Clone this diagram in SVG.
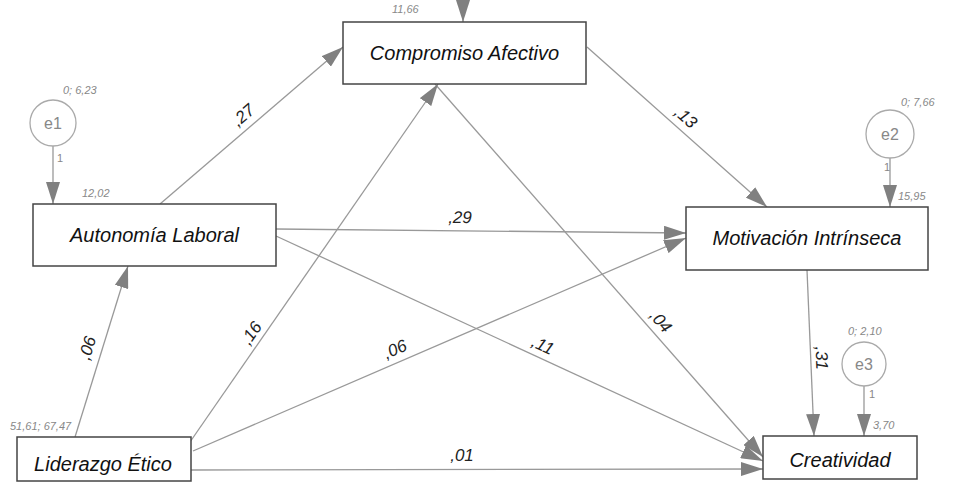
<svg xmlns="http://www.w3.org/2000/svg" width="954" height="485" viewBox="0 0 954 485">
<defs>
<marker id="ah" markerUnits="userSpaceOnUse" markerWidth="22" markerHeight="14" refX="22" refY="7" orient="auto"><path d="M0,0 L22,7 L0,14 z" fill="#808080"/></marker>
<style>
.box{fill:#fff;stroke:#444;stroke-width:1.5}
.circ{fill:#fff;stroke:#aaa;stroke-width:1.3}
.edge{stroke:#999;stroke-width:1.3;fill:none;marker-end:url(#ah)}
.name{font-family:"Liberation Sans",Arial,sans-serif;font-style:italic;font-size:20px;fill:#111;text-anchor:middle}
.ename{font-family:"Liberation Sans",Arial,sans-serif;font-size:16px;fill:#888;text-anchor:middle}
.small{font-family:"Liberation Sans",Arial,sans-serif;font-style:italic;font-size:11px;fill:#888}
.one{font-family:"Liberation Sans",Arial,sans-serif;font-size:11px;fill:#888}
.coef{font-family:"Liberation Sans",Arial,sans-serif;font-style:italic;font-size:17px;fill:#222;text-anchor:middle}
</style>
</defs>
<rect width="954" height="485" fill="#fff"/>
<g id="connectors">
<line class="edge" x1="463" y1="-5" x2="463" y2="22"/>
<line class="edge" x1="160" y1="204" x2="343" y2="47"/>
<line class="edge" x1="587" y1="47" x2="767" y2="207"/>
<line class="edge" x1="276" y1="229" x2="686" y2="233"/>
<line class="edge" x1="276" y1="236" x2="763" y2="461"/>
<line class="edge" x1="435" y1="84" x2="763" y2="457"/>
<line class="edge" x1="75" y1="437" x2="128" y2="266"/>
<line class="edge" x1="190" y1="442" x2="438" y2="84"/>
<line class="edge" x1="193" y1="451" x2="686" y2="238"/>
<line class="edge" x1="191" y1="470" x2="763" y2="469"/>
<line class="edge" x1="807" y1="270" x2="814" y2="436"/>
<line class="edge" x1="53" y1="146" x2="53" y2="204"/>
<line class="edge" x1="890" y1="158" x2="890" y2="207"/>
<line class="edge" x1="864" y1="386" x2="864" y2="436"/>
<text class="coef" transform="translate(243,115) rotate(-41)" y="6">,27</text>
<text class="coef" transform="translate(460,217) rotate(0.5)" y="6">,29</text>
<text class="coef" transform="translate(686,117) rotate(41.6)" y="6">,13</text>
<text class="coef" transform="translate(251,333) rotate(-55)" y="6">,16</text>
<text class="coef" transform="translate(87,348) rotate(-72.8)" y="6">,06</text>
<text class="coef" transform="translate(395,349) rotate(-23.3)" y="6">,06</text>
<text class="coef" transform="translate(543,345) rotate(24.8)" y="6">,11</text>
<text class="coef" transform="translate(661,321) rotate(48.7)" y="6">,04</text>
<text class="coef" transform="translate(822,358) rotate(87.6)" y="6">,31</text>
<text class="coef" transform="translate(462,455)" y="6">,01</text>
<text class="one" x="57" y="162">1</text>
<text class="one" x="884" y="171">1</text>
<text class="one" x="869" y="398">1</text>
</g>
<g id="compromiso">
<rect class="box" x="343" y="22" width="243" height="62"/>
<text class="name" x="464.5" y="60">Compromiso Afectivo</text>
<text class="small" x="392" y="13">11,66</text>
</g>
<g id="autonomia">
<rect class="box" x="33" y="204" width="243" height="62"/>
<text class="name" x="154.5" y="242">Autonomía Laboral</text>
<text class="small" x="82" y="197">12,02</text>
</g>
<g id="motivacion">
<rect class="box" x="686" y="207" width="242" height="63"/>
<text class="name" x="807" y="245">Motivación Intrínseca</text>
<text class="small" x="898" y="200">15,95</text>
</g>
<g id="liderazgo">
<rect class="box" x="17" y="437" width="174" height="44"/>
<text class="name" x="103" y="471">Liderazgo Ético</text>
<text class="small" x="10" y="430">51,61; 67,47</text>
</g>
<g id="creatividad">
<rect class="box" x="763" y="436" width="154" height="43"/>
<text class="name" x="840" y="467">Creatividad</text>
<text class="small" x="873" y="429">3,70</text>
</g>
<g id="e1">
<circle class="circ" cx="53" cy="123" r="23"/>
<text class="ename" x="53" y="129">e1</text>
<text class="small" x="63" y="94">0; 6,23</text>
</g>
<g id="e2">
<circle class="circ" cx="890" cy="134" r="24"/>
<text class="ename" x="890" y="140">e2</text>
<text class="small" x="901" y="106">0; 7,66</text>
</g>
<g id="e3">
<circle class="circ" cx="864" cy="364" r="22"/>
<text class="ename" x="864" y="370">e3</text>
<text class="small" x="848" y="335">0; 2,10</text>
</g>
</svg>
